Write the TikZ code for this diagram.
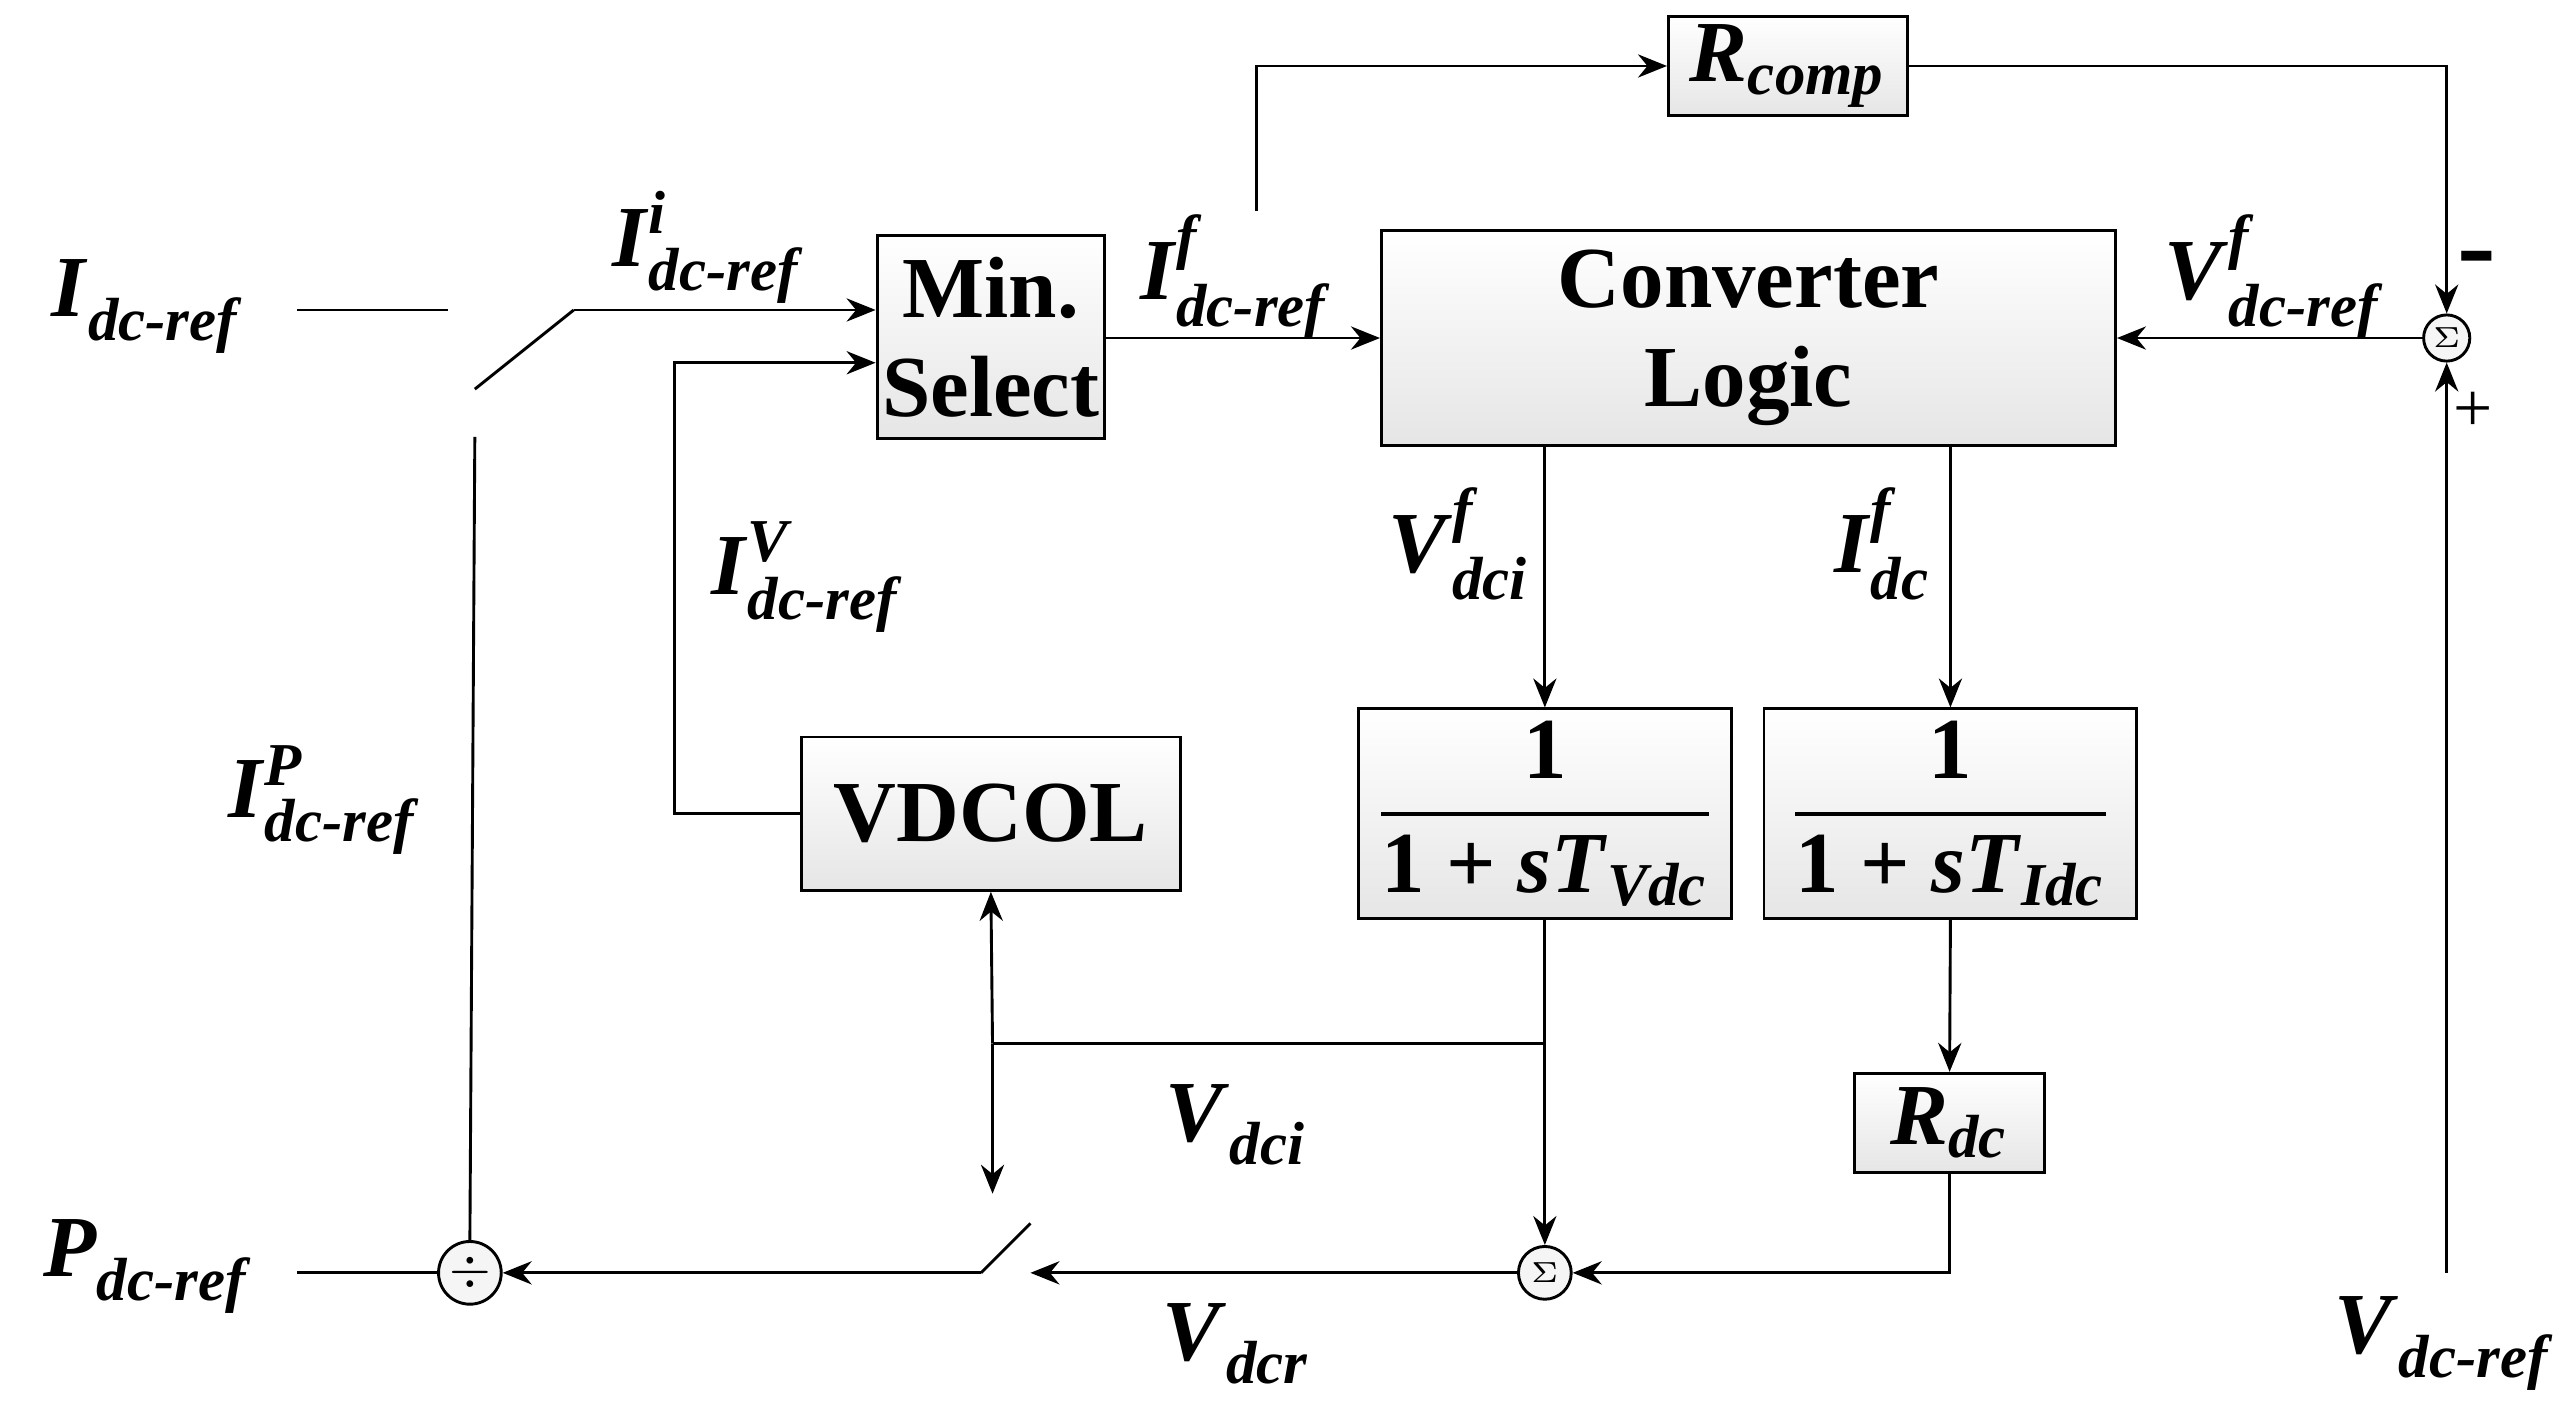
\documentclass[tikz,border=0pt]{standalone}
\usepackage{amsmath}
\usepackage{fontspec}
\setmainfont{Liberation Serif}
\usetikzlibrary{arrows.meta,calc,positioning}
\newcommand{\bi}[1]{\textbf{\textit{#1}}}
\newcommand{\sig}[3]{$\bi{#1}^{\bi{#3}}_{\bi{#2}}$}
\begin{document}
\begin{tikzpicture}[x=0.01cm,y=-0.01cm,font=\fontsize{15}{17}\selectfont,
  blk/.style={draw,top color=white,bottom color=gray!20,inner sep=0pt,align=center,font=\fontsize{15}{17}\selectfont\bfseries},
  sum/.style={draw,circle,fill=gray!8,inner sep=0pt,minimum size=0.28cm,font=\tiny},
  lbl/.style={font=\fontsize{15}{17}\selectfont},
  arr/.style={-{Stealth[length=5pt,width=4pt]}},
  every path/.style={line width=0.5pt}]
  \useasboundingbox (0,0) rectangle (1560,856);
  % blocks
  \node[blk,minimum width=1.45cm,minimum height=0.60cm] (rcomp) at (1084.5,40) {\bi{R}\textsubscript{\bi{comp}}};
  \node[blk,minimum width=1.38cm,minimum height=1.23cm] (minsel) at (601,204.5) {Min.\\Select};
  \node[blk,minimum width=4.45cm,minimum height=1.30cm] (logic) at (1060.5,205) {Converter\\Logic};
  \node[blk,minimum width=2.30cm,minimum height=0.93cm] (vdcol) at (601,493.5) {VDCOL};
  \node[blk,minimum width=2.26cm,minimum height=1.27cm] (tfv) at (937,493.5) {$\dfrac{\textbf{1}}{\textbf{1 + }\bi{sT}_{\bi{Vdc}}}$};
  \node[blk,minimum width=2.26cm,minimum height=1.27cm] (tfi) at (1183,493.5) {$\dfrac{\textbf{1}}{\textbf{1 + }\bi{sT}_{\bi{Idc}}}$};
  \node[blk,minimum width=1.15cm,minimum height=0.60cm] (rdc) at (1182.5,681) {\bi{R}\textsubscript{\bi{dc}}};
  \node[sum] (sumr) at (1484,205) {$\Sigma$};
  \node[sum,minimum size=0.32cm] (sumb) at (937,772) {$\Sigma$};
  \node[sum,minimum size=0.38cm,font=\small] (div) at (285,772) {$\div$};
  % coordinates
  \coordinate (iin) at (180,188);
  \coordinate (iend) at (272,188);
  \coordinate (swa) at (288,236);
  \coordinate (swb) at (348,188);
  \coordinate (swc) at (288,265);
  \coordinate (tap) at (762,128);
  \coordinate (vref) at (1484,772);
  \coordinate (brv) at (937,633);
  \coordinate (brl) at (602,633);
  \coordinate (swd) at (602,724);
  \coordinate (swe) at (625,772);
  \coordinate (swf) at (595,772);
  \coordinate (swg) at (625,742);
  \coordinate (pin) at (180,772);
  % connectors
  \draw (iin) -- (iend);
  \draw (swa) -- (swb);
  \draw[arr] (swb) -- (swb -| minsel.west);
  \draw (swc) -- (div.north);
  \draw[arr] (minsel.east |- logic.west) -- (logic.west);
  \draw[arr] (tap) |- (rcomp.west);
  \draw[arr] (rcomp.east) -| (sumr.north);
  \draw[arr] (vref) -- (sumr.south);
  \draw[arr] (sumr.west) -- (logic.east);
  \draw[arr] (logic.south -| tfv.north) -- (tfv.north);
  \draw[arr] (logic.south -| tfi.north) -- (tfi.north);
  \draw[arr] (tfv.south) -- (sumb.north);
  \draw (brv) -- (brl);
  \draw[arr] (brl) -- (vdcol.south);
  \draw[arr] (brl) -- (swd);
  \draw[arr] (tfi.south) -- (rdc.north);
  \draw[arr] (rdc.south) |- (sumb.east);
  \draw[arr] (sumb.west) -- (swe);
  \draw (swf) -- (swg);
  \draw[arr] (swf) -- (div.east);
  \draw (pin) -- (div.west);
  \draw[arr] (vdcol.west) -- ++(-76,0) |- ($(minsel.west)+(0,15.5)$);
  % labels
  \node[lbl] at (90,186) {\sig{I}{dc-ref}{}};
  \node[lbl] at (430,150) {\sig{I}{dc-ref}{i}};
  \node[lbl] at (750,168) {\sig{I}{dc-ref}{f}};
  \node[lbl] at (1380,168) {\sig{V}{dc-ref}{f}};
  \node[lbl] at (885,330) {\sig{V}{dci}{f}};
  \node[lbl] at (1142,330) {\sig{I}{dc}{f}};
  \node[lbl] at (490,350) {\sig{I}{dc-ref}{V}};
  \node[lbl] at (197,485) {\sig{I}{dc-ref}{P}};
  \node[lbl] at (750,682) {\sig{V}{dci}{}};
  \node[lbl] at (750,815) {\sig{V}{dcr}{}};
  \node[lbl] at (90,768) {\sig{P}{dc-ref}{}};
  \node[lbl] at (1483,815) {\sig{V}{dc-ref}{}};
  \node[font=\fontsize{20}{20}\selectfont\bfseries] at (1502,162) {-};
  \node[font=\large] at (1500,250) {+};
\end{tikzpicture}
\end{document}
